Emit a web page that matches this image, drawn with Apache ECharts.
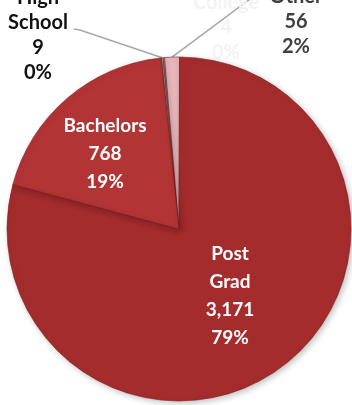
<!DOCTYPE html>
<html>
<head>
<meta charset="utf-8">
<script src="https://cdn.jsdelivr.net/npm/echarts@6/dist/echarts.min.js"></script>
<style>
  html, body { margin: 0; padding: 0; background: #fff; }
  #main { width: 352px; height: 405px; }
</style>
</head>
<body>
<div id="main"></div>
<script>
// data
var categories = ['High School', 'College', 'Other', 'Post Grad', 'Bachelors'];
var counts = [9, 4, 56, 3171, 768];
var percentLabels = ['0%', '0%', '2%', '79%', '19%'];

// label looks (not data)
var sliceColors = ['#9c9c9c', '#f4f4f4', '#e8b7bc', '#a42c2d', '#b23435'];
var labelColors = ['#111', '#f3f3f3', '#3f3f3f', '#fff', '#fff'];
var labelPos = [[38, 35], [226, 28], [296, 22], [230, 296], [105, 154]];

var chart = echarts.init(document.getElementById('main'));

function fmtNum(v) {
  return v.toString().replace(/\B(?=(\d{3})+(?!\d))/g, ',');
}

var pieData = categories.map(function (name, i) {
  var inside = i >= 3;
  var shownName = name.replace(' ', '\n');
  return {
    name: name,
    value: counts[i],
    itemStyle: { color: sliceColors[i] },
    label: {
      show: true,
      position: inside ? 'inside' : 'outside',
      formatter: shownName + '\n' + fmtNum(counts[i]) + '\n' + percentLabels[i],
      color: labelColors[i],
      fontSize: inside ? 19 : 20,
      lineHeight: inside ? 28 : 25
    },
    labelLine: {
      show: !inside && i != 1,
      lineStyle: { color: '#a6a6a6', width: 1.5 }
    }
  };
});

chart.setOption({
  backgroundColor: '#fff',
  animation: false,
  series: [{
    type: 'pie',
    center: [179, 229],
    radius: 172,
    startAngle: 96,
    clockwise: true,
    avoidLabelOverlap: false,
    label: {
      fontFamily: 'Lato',
      fontWeight: 'bold',
      align: 'center'
    },
    labelLine: { length: 20, length2: 10 },
    itemStyle: {
      borderColor: 'rgba(120,20,20,0.55)',
      borderWidth: 1,
      shadowBlur: 6,
      shadowColor: 'rgba(0,0,0,0.25)',
      shadowOffsetX: 2,
      shadowOffsetY: 2
    },
    labelLayout: function (params) {
      var i = params.dataIndex;
      var p = labelPos[i];
      var out = { x: p[0], y: p[1], align: 'center', verticalAlign: 'middle' };
      var pts = params.labelLinePoints;
      var r = params.labelRect;
      if (pts && i == 2) {
        // leader to the upper-left corner of the "Other" label
        var end = [p[0] - r.width / 2 - 8, p[1] - r.height / 2 + 6];
        out.labelLinePoints = [pts[0], end, end];
      }
      if (pts && i == 0) {
        var endR = [p[0] + r.width / 2 + 6, p[1] - 6];
        out.labelLinePoints = [pts[0], [endR[0] + 6, endR[1] + 1], endR];
      }
      return out;
    },
    data: pieData
  }]
});
</script>
</body>
</html>
